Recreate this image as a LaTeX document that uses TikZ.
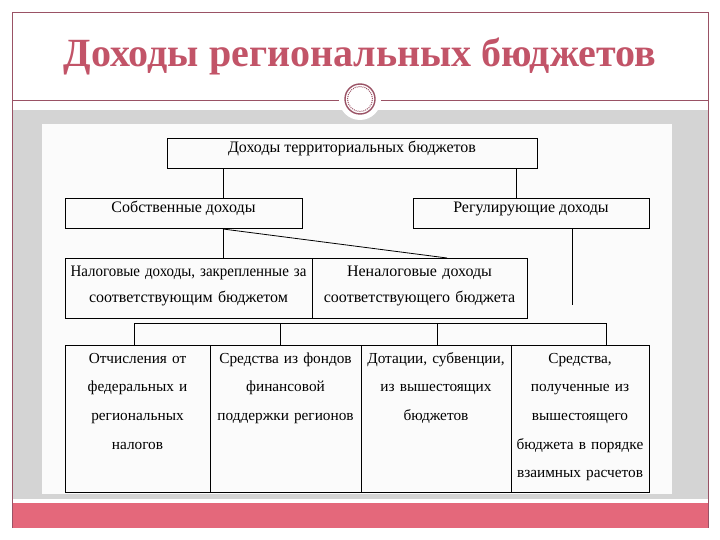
\documentclass[tikz,border=0pt]{standalone}
\usepackage{fontspec}
\setmainfont{Liberation Serif}
\usepackage{xcolor}
\usepackage{tikz}
\usetikzlibrary{positioning}

\definecolor{framered}{HTML}{9A5265}
\definecolor{titlered}{HTML}{C25468}
\definecolor{bandpink}{HTML}{E4687B}
\definecolor{panelgray}{HTML}{D4D4D4}
\definecolor{paper}{HTML}{FBFBFB}

\begin{document}
\begin{tikzpicture}[x=1pt,y=-1pt,
  box/.style={draw,line width=1pt,fill=paper,inner sep=0pt,font=\fontsize{16}{25.5}\selectfont},
  onebox/.style={box,anchor=north,inner ysep=3pt,text height=11pt,text depth=13pt},
  twobox/.style={box,anchor=north,align=center,inner ysep=3pt,text height=15pt,text depth=39pt},
  colbox/.style={box,anchor=north,align=center,inner ysep=3pt,text height=14.5pt,text depth=126.5pt,font=\fontsize{15.3}{28.7}\selectfont},
  link/.style={draw,line width=0.8pt}]
  \useasboundingbox (0,0) rectangle (720,540);
  \fill[white] (0,0) rectangle (720,540);
  % slide frame
  \fill[panelgray] (12,110) rectangle (708,499);
  \fill[paper] (42,124) rectangle (672,494);
  \fill[bandpink] (12,503) rectangle (708,528);
  \draw[framered,line width=0.7pt] (12,528) -- (12,12) -- (708,12) -- (708,528);
  \draw[framered,line width=0.7pt] (12,100) -- (708,100);
  \fill[white] (360,99) circle (21pt);
  \draw[framered,line width=1.4pt] (360,99) circle (15pt);
  \draw[framered,line width=1pt,densely dotted] (360,99) circle (12.5pt);
  \node[font=\fontsize{40}{44}\selectfont\bfseries,text=titlered,anchor=base] (title) at (360,67) {Доходы региональных бюджетов};

  % boxes
  \node[onebox,minimum width=370pt] (total) at (352,138) {Доходы территориальных бюджетов};
  \node[onebox,minimum width=237pt] (own) at (183.5,198) {Собственные доходы};
  \node[onebox,minimum width=236pt] (reg) at (531,198) {Регулирующие доходы};
  \node[twobox,text width=247pt] (tax) at (188.5,258) {\scalebox{0.935}[1]{Налоговые доходы, закрепленные за}\\соответствующим бюджетом};
  \node[twobox,text width=215pt] (nontax) at (419.5,258) {Неналоговые доходы\\соответствующего бюджета};
  \node[colbox,text width=145pt] (col1) at (137.5,345) {Отчисления от\\федеральных и\\региональных\\налогов};
  \node[colbox,text width=151pt] (col2) at (285.5,345) {Средства из фондов\\финансовой\\поддержки регионов};
  \node[colbox,text width=150pt] (col3) at (436,345) {Дотации, субвенции,\\из вышестоящих\\бюджетов};
  \node[colbox,text width=138pt] (col4) at (580,345) {Средства,\\полученные из\\вышестоящего\\бюджета в порядке\\взаимных расчетов};

  % connectors
  \coordinate (ownx) at (223,0);
  \coordinate (regx) at (516,0);
  \coordinate (diagx) at (447,0);
  \coordinate (regend) at (572,305);
  \coordinate (b1) at (134,323);
  \coordinate (b2) at (280,323);
  \coordinate (b3) at (437,323);
  \coordinate (b4) at (606,323);
  \draw[link] (total.south -| ownx) -- (own.north -| ownx);
  \draw[link] (total.south -| regx) -- (reg.north -| regx);
  \draw[link] (own.south -| ownx) -- (tax.north -| ownx);
  \draw[link] (own.south -| ownx) -- (nontax.north -| diagx);
  \draw[link] (reg.south -| regend) -- (regend);
  \draw[link] (col1.north -| b1) -- (b1) -- (b4) -- (col4.north -| b4);
  \draw[link] (b2) -- (col2.north -| b2);
  \draw[link] (b3) -- (col3.north -| b3);
\end{tikzpicture}
\end{document}
